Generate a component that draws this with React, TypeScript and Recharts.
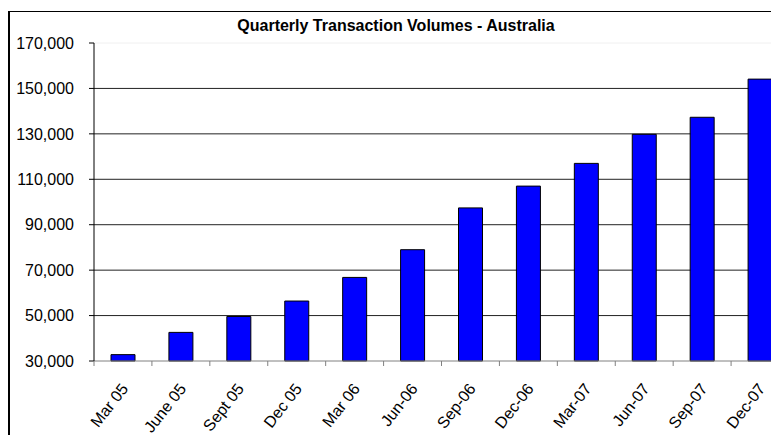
import { BarChart, Bar, XAxis, YAxis, CartesianGrid, ReferenceLine } from "recharts";

const quarters = [
  "Mar 05",
  "June 05",
  "Sept 05",
  "Dec 05",
  "Mar 06",
  "Jun-06",
  "Sep-06",
  "Dec-06",
  "Mar-07",
  "Jun-07",
  "Sep-07",
  "Dec-07",
];

const volumes = [
  32800, 42600, 49600, 56400, 66800, 79000, 97400, 107000, 117000, 129800,
  137300, 154100,
];

const yTicks = [30000, 50000, 70000, 90000, 110000, 130000, 150000, 170000];
const gridValues = [50000, 70000, 90000, 110000, 130000, 150000];

const data = quarters.map((q, i) => ({ quarter: q, volume: volumes[i] }));

const font = '"Liberation Sans", Arial, sans-serif';

function QuarterTick(props: any) {
  const { x, y, payload } = props;
  const half = payload.offset || 0;
  return (
    <g>
      <line x1={x - half} y1={y} x2={x - half} y2={y + 5} stroke="#808080" />
      <text
        x={0}
        y={0}
        transform={`translate(${x + 6},${y + 28}) rotate(-52)`}
        textAnchor="end"
        fontSize={16}
        fill="#000"
        fontFamily={font}
      >
        {payload.value}
      </text>
    </g>
  );
}

export default function App() {
  return (
    <div
      style={{
        width: 771,
        height: 427,
        overflow: "hidden",
        position: "relative",
        fontFamily: font,
      }}
    >
      <div
        style={{
          position: "absolute",
          left: 0,
          top: 3,
          width: 900,
          height: 500,
          borderLeft: "2px solid #000",
          borderTop: "1px solid #000",
        }}
      />
      <div
        style={{
          position: "absolute",
          left: 0,
          top: 9,
          width: 776,
          textAlign: "center",
          fontSize: 16,
          lineHeight: "18px",
          fontWeight: "bold",
          color: "#000",
        }}
      >
        Quarterly Transaction Volumes - Australia
      </div>
      <div style={{ position: "absolute", left: 2, top: 4 }}>
        <BarChart
          width={800}
          height={440}
          data={data}
          margin={{ top: 31, right: 21, bottom: 11, left: 0 }}
        >
          <CartesianGrid
            vertical={false}
            horizontalValues={gridValues}
            stroke="#222"
          />
          <ReferenceLine y={170000} stroke="#f0f0f0" />
          <XAxis
            dataKey="quarter"
            interval={0}
            height={80}
            tickSize={0}
            tickMargin={0}
            tickLine={false}
            axisLine={{ stroke: "#808080" }}
            tick={<QuarterTick />}
          />
          <YAxis
            width={84}
            domain={[30000, 170000]}
            ticks={yTicks}
            tickSize={5}
            tickMargin={15}
            axisLine={{ stroke: "#000" }}
            tickLine={{ stroke: "#000" }}
            tick={{ fill: "#000", fontSize: 16, fontFamily: font }}
            tickFormatter={(v: number) => v.toLocaleString("en-US")}
          />
          <Bar
            dataKey="volume"
            barSize={24}
            fill="#0000FF"
            stroke="#000"
            strokeWidth={1}
            isAnimationActive={false}
          />
        </BarChart>
      </div>
    </div>
  );
}
